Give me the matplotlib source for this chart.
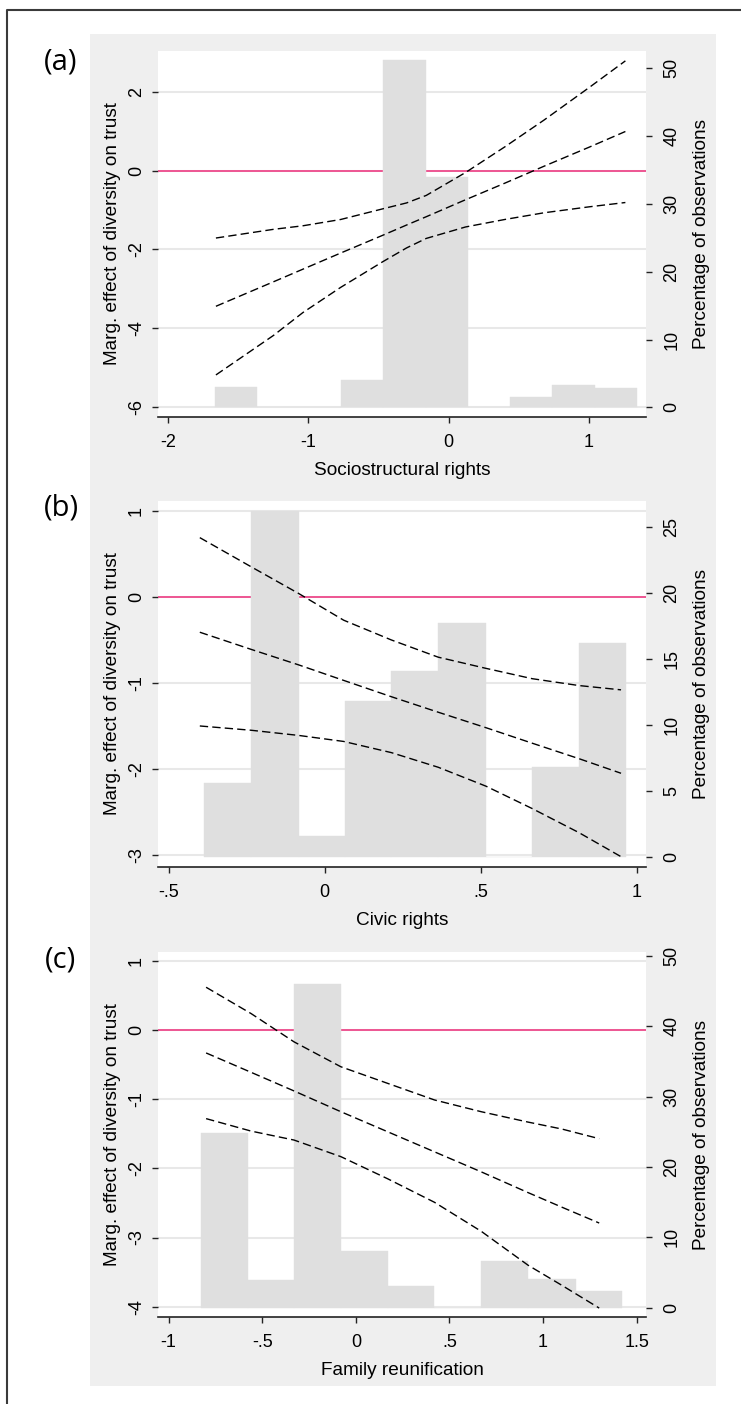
"""
Marginal effect of diversity on trust, conditional on three integration-policy
indices. Stata-style twin-axis plot: CI lines on the left scale, histogram of
the moderator on the right scale.
"""

import matplotlib
matplotlib.use("Agg")
import matplotlib.pyplot as plt
from matplotlib.patches import Rectangle
from matplotlib.lines import Line2D

plt.rcParams["font.family"] = ["Liberation Sans", "DejaVu Sans"]

# ── Panel (a) — Sociostructural rights ───────────────────────────────────────
A_BIN_EDGES = [-1.67, -1.37, -1.07, -0.77, -0.47, -0.165, 0.135, 0.435, 0.74, 1.04, 1.34]
A_PCT       = [3.0, 0.0, 0.0, 4.1, 51.2, 34.0, 0.0, 1.5, 3.3, 2.9]
A_X         = [-1.66, -1.25, -1.04, -0.77, -0.47, -0.30, -0.16, 0.12, 0.40, 0.68, 1.00, 1.26]
A_UPPER     = [-1.71, -1.49, -1.40, -1.24, -0.97, -0.82, -0.63, -0.05, 0.60, 1.28, 2.10, 2.78]
A_EFFECT    = [-3.44, -2.82, -2.50, -2.09, -1.64, -1.38, -1.17, -0.74, -0.32, 0.11, 0.59, 0.99]
A_LOWER     = [-5.18, -4.18, -3.60, -2.96, -2.31, -1.96, -1.72, -1.43, -1.24, -1.07, -0.92, -0.81]
A_XTICKS    = [-2, -1, 0, 1]
A_XLABELS   = ["-2", "-1", "0", "1"]
A_YTICKS    = [-6, -4, -2, 0, 2]
A_YLABELS   = ["-6", "-4", "-2", "0", "2"]
A_PTICKS    = [0, 10, 20, 30, 40, 50]

# ── Panel (b) — Civic rights ─────────────────────────────────────────────────
B_BIN_EDGES = [-0.386, -0.235, -0.083, 0.065, 0.214, 0.364, 0.517, 0.665, 0.815, 0.966]
B_PCT       = [5.6, 26.2, 1.6, 11.8, 14.1, 17.7, 0.0, 6.8, 16.2]
B_X         = [-0.40, -0.235, -0.083, 0.061, 0.214, 0.364, 0.517, 0.665, 0.815, 0.95]
B_UPPER     = [0.69, 0.35, 0.04, -0.27, -0.50, -0.70, -0.83, -0.95, -1.03, -1.08]
B_EFFECT    = [-0.41, -0.61, -0.79, -0.97, -1.16, -1.34, -1.52, -1.70, -1.88, -2.05]
B_LOWER     = [-1.50, -1.55, -1.61, -1.68, -1.81, -1.98, -2.20, -2.46, -2.74, -3.02]
B_XTICKS    = [-0.5, 0, 0.5, 1]
B_XLABELS   = ["-.5", "0", ".5", "1"]
B_YTICKS    = [-3, -2, -1, 0, 1]
B_YLABELS   = ["-3", "-2", "-1", "0", "1"]
B_PTICKS    = [0, 5, 10, 15, 20, 25]

# ── Panel (c) — Family reunification ────────────────────────────────────────
C_BIN_EDGES = [-0.828, -0.576, -0.331, -0.078, 0.174, 0.42, 0.67, 0.92, 1.174, 1.424]
C_PCT       = [24.9, 4.0, 46.0, 8.1, 3.1, 0.0, 6.7, 4.1, 2.4]
C_X         = [-0.80, -0.56, -0.33, -0.08, 0.17, 0.42, 0.67, 0.92, 1.10, 1.30]
C_UPPER     = [0.62, 0.24, -0.17, -0.53, -0.77, -1.01, -1.18, -1.33, -1.43, -1.57]
C_EFFECT    = [-0.33, -0.61, -0.88, -1.18, -1.47, -1.76, -2.05, -2.35, -2.56, -2.79]
C_LOWER     = [-1.28, -1.46, -1.59, -1.83, -2.15, -2.49, -2.91, -3.40, -3.69, -4.02]
C_XTICKS    = [-1, -0.5, 0, 0.5, 1, 1.5]
C_XLABELS   = ["-1", "-.5", "0", ".5", "1", "1.5"]
C_YTICKS    = [-4, -3, -2, -1, 0, 1]
C_YLABELS   = ["-4", "-3", "-2", "-1", "0", "1"]
C_PTICKS    = [0, 10, 20, 30, 40, 50]

# ── Style ────────────────────────────────────────────────────────────────────
W, H        = 741, 1404
PANEL_BG    = "#EFEFEF"
BAR_COLOR   = "#DFDFDF"
GRID_COLOR  = "#E8E8E8"
ZERO_COLOR  = "#EE4A8C"
AXIS_COLOR  = "#222222"
TICK_FS     = 13
LABEL_FS    = 13.7
# ─────────────────────────────────────────────────────────────────────────────


def px_rect(left, top, right, bottom):
    """Pixel box (origin top-left) -> figure-fraction [l, b, w, h]."""
    return [left / W, 1 - bottom / H, (right - left) / W, (bottom - top) / H]


def draw_panel(fig, rect, edges, pct, x, upper, effect, lower,
               xticks, xlabels, yticks, ylabels, pticks,
               xlim, ylim, plim, xtitle):
    # layer 1: white plot region, grid, zero line, left + bottom axes
    ax = fig.add_axes(rect)
    ax.set_facecolor("white")
    ax.set_xlim(*xlim); ax.set_ylim(*ylim)
    ax.set_yticks(yticks)
    ax.set_yticklabels(ylabels, rotation=90, va="center", fontsize=TICK_FS)
    ax.set_xticks(xticks)
    ax.set_xticklabels(xlabels, fontsize=TICK_FS)
    ax.grid(axis="y", color=GRID_COLOR, linewidth=1.5)
    ax.set_axisbelow(True)
    ax.axhline(0, color=ZERO_COLOR, linewidth=1.3, zorder=1.5)
    for side in ("top", "left", "right"):
        ax.spines[side].set_visible(False)
    ax.spines["bottom"].set_color(AXIS_COLOR)
    ax.spines["bottom"].set_linewidth(1.2)
    ax.tick_params(axis="y", direction="out", length=4.5, width=1,
                   color=AXIS_COLOR, pad=5)
    ax.tick_params(axis="x", direction="out", length=4.5, width=1,
                   color=AXIS_COLOR, pad=7.5)
    ax.set_ylabel("Marg. effect of diversity on trust", fontsize=LABEL_FS, labelpad=5)
    ax.set_xlabel(xtitle, fontsize=LABEL_FS, labelpad=8.5)

    # layer 2: histogram on percent scale
    axh = ax.twinx()
    axh.set_ylim(*plim)
    widths = [b - a for a, b in zip(edges[:-1], edges[1:])]
    axh.bar(edges[:-1], pct, width=widths, align="edge",
            color=BAR_COLOR, edgecolor=BAR_COLOR, linewidth=0.3)
    axh.set_yticks(pticks)
    axh.set_yticklabels([str(t) for t in pticks], rotation=90, va="center",
                        fontsize=TICK_FS)
    for side in ("top", "left", "right", "bottom"):
        axh.spines[side].set_visible(False)
    axh.tick_params(axis="y", direction="out", length=4.5, width=1,
                    color=AXIS_COLOR, pad=8)
    axh.set_ylabel("Percentage of observations", fontsize=LABEL_FS, labelpad=9)

    # layer 3: effect + confidence band, above the bars
    axl = fig.add_axes(rect, sharex=ax, sharey=ax)
    axl.set_axis_off()
    for series in (upper, effect, lower):
        axl.plot(x, series, color="black", linewidth=1.0, dashes=(6, 3))
    return ax


def main():
    fig = plt.figure(figsize=(W / 100, H / 100), dpi=100)

    # grey graph region and outer frame
    l, b, w, h = px_rect(90, 34, 716, 1386)
    fig.add_artist(Rectangle((l, b), w, h, transform=fig.transFigure,
                             facecolor=PANEL_BG, edgecolor="none", zorder=-1))
    fig.add_artist(Line2D([7 / W, 7 / W, 1], [0, 1 - 10 / H, 1 - 10 / H],
                          transform=fig.transFigure, color="#3A3A3A", linewidth=1.5))

    draw_panel(fig, px_rect(158, 51, 646, 417),
               A_BIN_EDGES, A_PCT, A_X, A_UPPER, A_EFFECT, A_LOWER,
               A_XTICKS, A_XLABELS, A_YTICKS, A_YLABELS, A_PTICKS,
               (-2.073, 1.407), (-6.246, 3.03), (-1.43, 52.55),
               "Sociostructural rights")
    draw_panel(fig, px_rect(158, 501, 646, 867),
               B_BIN_EDGES, B_PCT, B_X, B_UPPER, B_EFFECT, B_LOWER,
               B_XTICKS, B_XLABELS, B_YTICKS, B_YLABELS, B_PTICKS,
               (-0.534, 1.030), (-3.14, 1.116), (-0.73, 26.95),
               "Civic rights")
    draw_panel(fig, px_rect(158, 952, 646, 1317),
               C_BIN_EDGES, C_PCT, C_X, C_UPPER, C_EFFECT, C_LOWER,
               C_XTICKS, C_XLABELS, C_YTICKS, C_YLABELS, C_PTICKS,
               (-1.057, 1.550), (-4.149, 1.13), (-1.32, 50.57),
               "Family reunification")

    for tag, ypx in (("(a)", 62), ("(b)", 508), ("(c)", 960)):
        fig.text(61 / W, 1 - ypx / H, tag, ha="center", va="center",
                 fontsize=21, family=["Open Sans", "DejaVu Sans"])

    fig.savefig("out.png", dpi=100)
    plt.close(fig)


if __name__ == "__main__":
    main()
